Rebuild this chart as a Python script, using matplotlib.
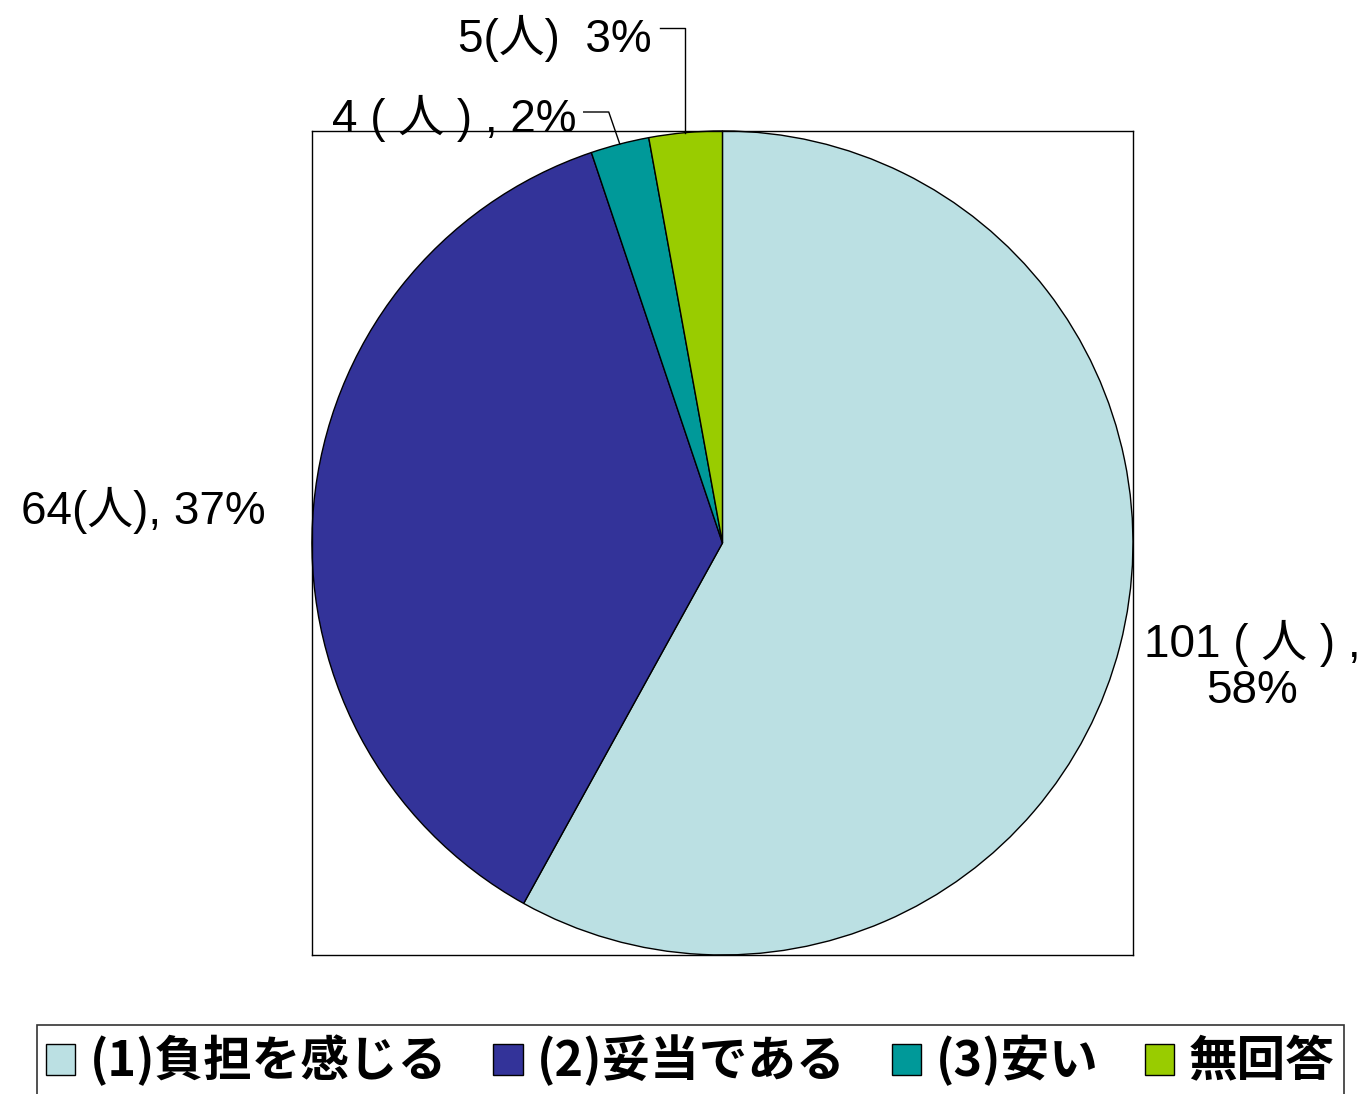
import numpy as np
import matplotlib.pyplot as plt

# data
categories = ["(1)負担を感じる", "(2)妥当である", "(3)安い", "無回答"]
counts = [101, 64, 4, 5]
pcts = [58, 37, 2, 3]
colors = ["#BBE0E3", "#333399", "#009999", "#99CC00"]
labels = ["101 ( 人 ) ,\n58%", "64(人), 37%", "4 ( 人 ) , 2%", "5(人)  3%"]

lab_font = ["Liberation Sans", "Noto Sans CJK JP"]
leg_font = ["Noto Sans CJK JP"]

fig = plt.figure(figsize=(13.67, 10.94), dpi=100)
ax = fig.add_axes([0.2282, 0.1271, 0.6006, 0.7532])

wedges, _ = ax.pie(counts, colors=colors, startangle=90, counterclock=False,
                   radius=1, frame=True,
                   wedgeprops=dict(edgecolor="black", linewidth=1.0))
ax.set_xlim(-1, 1)
ax.set_ylim(-1, 1)
ax.set_aspect("auto")
ax.set_xticks([])
ax.set_yticks([])
for s in ax.spines.values():
    s.set_visible(True)
    s.set_linewidth(1.0)
    s.set_color("black")

def edge_point(w):
    a = np.deg2rad((w.theta1 + w.theta2) / 2)
    return np.cos(a), np.sin(a)

# label placements (x, y, ha)
pos = [(1.29, -0.30, "center"), (-1.41, 0.08, "center"),
       (-0.355, 1.03, "right"), (-0.172, 1.225, "right")]
for lab, (x, y, ha) in zip(labels, pos):
    ax.text(x, y, lab, ha=ha, va="center", fontsize=33, family=lab_font,
            linespacing=1.05, clip_on=False)

# leader lines for the small slices
ex, ey = edge_point(wedges[2])
ax.plot([ex, -0.277, -0.338], [ey, 1.046, 1.046], color="black", lw=1.0, clip_on=False)
ex, ey = edge_point(wedges[3])
ax.plot([ex, ex, -0.151], [ey, 1.25, 1.25], color="black", lw=1.0, clip_on=False)

leg = fig.legend(wedges, categories, loc="upper center", bbox_to_anchor=(0.505, 0.0631),
                 ncol=4, frameon=True, fancybox=False, edgecolor="black",
                 prop=dict(family=leg_font, size=35, weight="bold"),
                 handlelength=0.6, handleheight=0.6, handletextpad=0.3,
                 columnspacing=0.95, borderpad=0.2, borderaxespad=0)
leg.get_frame().set_linewidth(1.2)

fig.savefig("out.png", dpi=100)
